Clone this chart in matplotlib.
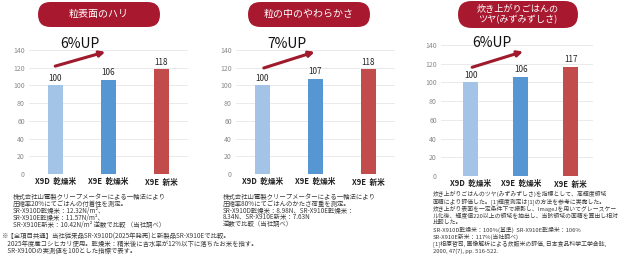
import matplotlib
matplotlib.use("Agg")
import matplotlib.pyplot as plt
from matplotlib.patches import FancyBboxPatch

plt.rcParams['font.family'] = ['Noto Sans CJK JP', 'DejaVu Sans']

# data
categories = ["X9D  乾燥米", "X9E  乾燥米", "X9E  新米"]
titles = ["粒表面のハリ", "粒の中のやわらかさ", "炊き上がりごはんの\nツヤ(みずみずしさ)"]
values_hari = [100, 106, 118]
values_yawa = [100, 107, 118]
values_tsuya = [100, 106, 117]
up_labels = ["6%UP", "7%UP", "6%UP"]
yticks = [0, 20, 40, 60, 80, 100, 120, 140]

notes_hari = [
    "株式会社山電製クリープメーターによる一軸法により",
    "圧縮率20%にてごはんの付着性を測定。",
    "SR-X910D乾燥米：12.32N/m²、",
    "SR-X910E乾燥米：11.57N/m²、",
    "SR-X910E新米：10.42N/m² 逆数で比較 （当社調べ）",
]
notes_yawa = [
    "株式会社山電製クリープメーターによる一軸法により",
    "圧縮率80%にてごはんのかたさ荷重を測定。",
    "SR-X910D乾燥米：8.98N、SR-X910E乾燥米：",
    "8.34N、SR-X910E新米：7.63N",
    "逆数で比較（当社調べ）",
]
notes_tsuya = [
    "炊き上がりごはんのツヤ(みずみずしさ)を指標として、高輝度領域",
    "面積により評価した。[1]輝度測定は[1]の方法を参考に実施した。",
    "炊き上がり表面を一定条件下で撮影し、ImageJを用いてグレースケー",
    "ル化後、輝度値220以上の領域を抽出し、当該領域の面積を算出し相対",
    "比較した。",
    "SR-X910D乾燥米：100%(基準)  SR-X910E乾燥米：106%",
    "SR-X910E新米：117%(当社調べ)",
    "[1]相原哲司, 画像解析による炊飯米の評価, 日本食品科学工学会誌,",
    "2000, 47(7), pp. 516-522.",
]
common_note = [
    "※【全項目共通】当社従来品SR-X910D(2025年発売)と新製品SR-X910Eで比較。",
    "　2025年度産コシヒカリ使用。乾燥米：精米後に含水率が12%以下に落ちたお米を指す。",
    "　SR-X910Dの実測値を100とした指標で表す。",
]

bar_colors = ["#a3c4e7", "#5697d3", "#c24c4c"]
title_color = "#a8192f"
arrow_color = "#a01a2e"

W, H = 620, 256
fig = plt.figure(figsize=(6.2, 2.56), dpi=100)


def px_axes(left, right, top, bottom):
    return fig.add_axes([left / W, (H - bottom) / H, (right - left) / W, (bottom - top) / H])


panels = [
    dict(vals=values_hari, box=(29, 188, 50, 174), xlim=(-0.5, 2.5),
         pill=(38, 2, 122, 25), tfs=7.2, arrow=((0.165, 0.87), (0.48, 0.985)), up=(0.32, 1.05),
         notes=notes_hari, nx=13, ny=197, nstep=7.0, nfs=4.6),
    dict(vals=values_yawa, box=(236, 395, 50, 174), xlim=(-0.5, 2.5),
         pill=(248, 2, 122, 25), tfs=7.2, arrow=((0.175, 0.855), (0.495, 0.985)), up=(0.32, 1.05),
         notes=notes_yawa, nx=223, ny=197, nstep=6.8, nfs=4.6),
    dict(vals=values_tsuya, box=(441, 593, 45, 176), xlim=(-0.6, 2.45),
         pill=(458, 1, 120, 27), tfs=6.6, arrow=((0.205, 0.83), (0.54, 0.95)), up=(0.335, 1.015),
         notes=notes_tsuya, nx=433, ny=194, nstep=7.2, nfs=4.2),
]

for i, p in enumerate(panels):
    l, r, t, b = p["box"]
    ax = px_axes(l, r, t, b)
    x = list(range(len(categories)))
    bars = ax.bar(x, p["vals"], width=0.3, color=bar_colors, zorder=3)
    for rect, v in zip(bars, p["vals"]):
        ax.annotate(str(v), (rect.get_x() + rect.get_width() / 2, v), xytext=(0, 2),
                    textcoords="offset points", ha="center", va="bottom",
                    fontsize=5.8, color="#222222")
    ax.set_xlim(*p["xlim"])
    ax.set_ylim(0, 140)
    ax.set_yticks(yticks)
    ax.set_xticks(x)
    ax.set_xticklabels(categories, fontsize=5.5, fontweight="bold", color="#222222")
    ax.tick_params(axis="x", length=0, pad=2.5)
    ax.tick_params(axis="y", length=0, pad=3, labelsize=5, labelcolor="#8a8a8a")
    ax.grid(axis="y", color="#e6e6e6", linewidth=0.6, zorder=0)
    for s in ax.spines.values():
        s.set_visible(False)
    ax.patch.set_alpha(0)

    (x0, y0), (x1, y1) = p["arrow"]
    ax.annotate("", xy=(x1, y1), xytext=(x0, y0), xycoords="axes fraction",
                textcoords="axes fraction", annotation_clip=False,
                arrowprops=dict(arrowstyle="-|>", color=arrow_color, lw=2.2,
                                mutation_scale=8, shrinkA=0, shrinkB=0))
    ax.text(p["up"][0], p["up"][1], up_labels[i], transform=ax.transAxes,
            ha="center", va="center", fontsize=10, color="#111111", clip_on=False)

    px, py, pw, ph = p["pill"]
    pill = FancyBboxPatch((px / 100, (H - py - ph) / 100), pw / 100, ph / 100,
                          boxstyle=f"round,pad=0,rounding_size={ph / 200}",
                          transform=fig.dpi_scale_trans, facecolor=title_color,
                          edgecolor="none")
    fig.patches.append(pill)
    fig.text((px + pw / 2) / W, (H - py - ph / 2) / H, titles[i], ha="center", va="center",
             color="white", fontsize=p["tfs"], linespacing=1.05)

    for k, line in enumerate(p["notes"]):
        fig.text(p["nx"] / W, (H - p["ny"] - k * p["nstep"]) / H, line, ha="left",
                 va="center", fontsize=p["nfs"], color="#3a3a3a")

for k, line in enumerate(common_note):
    fig.text(1 / W, (H - 237 - k * 7) / H, line, ha="left", va="center",
             fontsize=4.6, color="#3a3a3a")

fig.savefig("out.png", dpi=100)
